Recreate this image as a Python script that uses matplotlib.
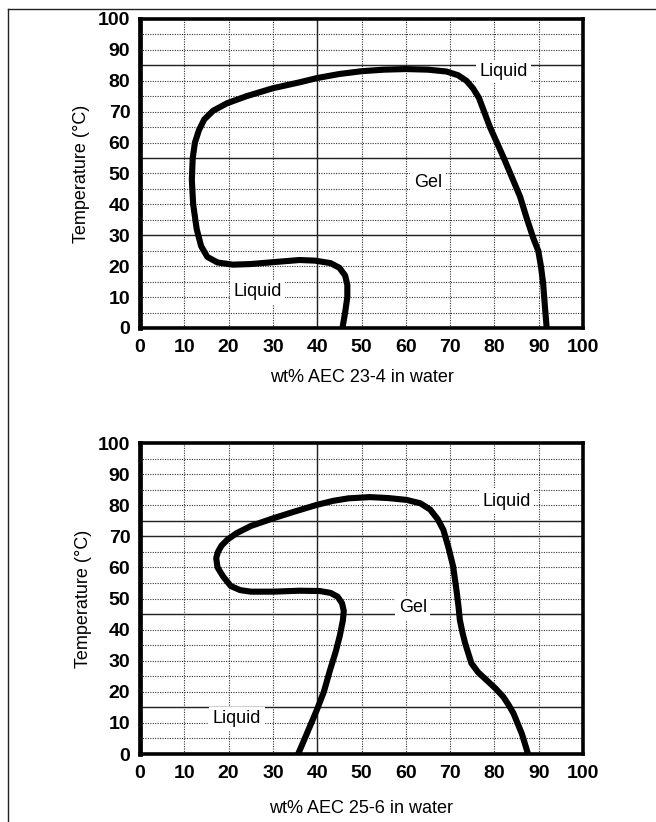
import matplotlib
matplotlib.use("Agg")
import matplotlib.pyplot as plt
from matplotlib.lines import Line2D

plt.rcParams['font.family'] = ['Liberation Sans', 'DejaVu Sans']

# ---------------- data ----------------
x_ticks = list(range(0, 101, 10))
y_ticks = list(range(0, 101, 10))
y_minor = list(range(5, 100, 10))

# AEC 23-4 phase boundary (wt%, temperature)
c1_x = [45.7, 46.3, 46.8, 46.8, 46.3, 45.0, 43.0, 39.5, 36.0, 30.0, 25.0, 21.0, 17.5,
        15.2, 13.8, 12.8, 12.0, 11.7, 11.9, 12.4, 13.3, 14.5, 16.5, 19.6, 24.0, 30.0,
        36.0, 40.0, 45.0, 50.0, 55.0, 60.0, 65.0, 69.2, 71.8, 73.7, 75.2, 76.5, 79.0,
        82.0, 85.8, 87.3, 88.8, 89.9, 90.5, 91.0, 91.4, 91.8]
c1_y = [0, 5, 10, 14, 17, 19.5, 21.0, 21.8, 22.0, 21.3, 20.7, 20.5, 21.2,
        23.0, 26.5, 32, 40, 48, 55, 60, 64, 67.5, 70.3, 72.7, 75.0, 77.6,
        79.5, 80.9, 82.2, 83.1, 83.6, 83.8, 83.6, 83.0, 81.8, 80.0, 77.5, 74.5, 65,
        55.4, 42.5, 35.5, 29, 25, 20, 14.5, 7, 0]

# AEC 25-6 phase boundary
c2_x = [35.7, 37.5, 39.9, 41.5, 42.9, 44.2, 45.1, 45.8, 46.0, 45.6, 44.6, 43.0, 40.6,
        36.0, 30.1, 25.0, 22.6, 20.5, 18.8, 17.5, 17.2, 17.6, 18.4, 19.8, 21.8, 25.0,
        30.1, 35.0, 39.9, 43.6, 47.0, 51.9, 56.0, 60.2, 63.3, 65.5, 67.2, 68.5, 69.7,
        70.7, 71.5, 71.9, 72.2, 72.8, 73.4, 74.8, 76.3, 78.2, 80.3, 82.0, 83.2, 84.3,
        86.2, 87.6]
c2_y = [0, 6, 14.1, 20, 27, 33, 38, 43, 46, 48.5, 50.6, 51.8, 52.4,
        52.5, 52.2, 52.2, 52.7, 54, 57, 60, 63, 65, 67, 69, 71, 73.3,
        75.8, 78, 80.1, 81.4, 82.2, 82.6, 82.3, 81.7, 80.6, 78.6, 75.5, 72, 66,
        60.2, 52, 47.4, 43.1, 39, 35.6, 29.2, 26.3, 23.8, 21, 18.4, 15.8, 13.1,
        6.5, 0]

# solid reference lines of the printed grid
solid_h_1 = [85, 55, 30]
solid_v_1 = [40]
solid_h_2 = [75, 70, 45, 15]
solid_v_2 = [40]

# region labels: (text, x, y)
labels_1 = [("Liquid", 82, 83), ("Gel", 65, 47), ("Liquid", 26.5, 11.7)]
labels_2 = [("Liquid", 82.8, 81.3), ("Gel", 61.6, 47), ("Liquid", 21.9, 11.3)]

xlabel_1 = "wt% AEC 23-4 in water"
xlabel_2 = "wt% AEC 25-6 in water"
ylabel = "Temperature (°C)"

# ---------------- figure ----------------
W, H = 656, 822
fig = plt.figure(figsize=(W / 100, H / 100), dpi=100)
fig.patch.set_facecolor('white')

# page frame (top and left edges)
fig.add_artist(Line2D([8 / W, 1.0], [1 - 9 / H, 1 - 9 / H], transform=fig.transFigure,
                      color='#222222', lw=1.0))
fig.add_artist(Line2D([8 / W, 8 / W], [1 - 9 / H, 0.0], transform=fig.transFigure,
                      color='#222222', lw=1.0))


def make_axes(px_left, px_top, px_right, px_bottom):
    return fig.add_axes([px_left / W, 1 - px_bottom / H,
                         (px_right - px_left) / W, (px_bottom - px_top) / H])


def draw(ax, cx, cy, sh, sv, labels, xl, xl_y, yl_x):
    ax.set_xlim(0, 100)
    ax.set_ylim(0, 100)
    ax.set_xticks(x_ticks)
    ax.set_yticks(y_ticks)
    ax.set_yticks(y_minor, minor=True)
    ax.tick_params(which='both', length=0)
    ax.tick_params(axis='x', pad=8)
    ax.tick_params(axis='y', pad=7)
    for lab in ax.get_xticklabels() + ax.get_yticklabels():
        lab.set_fontsize(14)
        lab.set_fontweight('bold')
    dot = (0, (1, 1.2))
    ax.xaxis.grid(True, which='major', linestyle=dot, lw=0.8, color='#333333')
    ax.yaxis.grid(True, which='both', linestyle=dot, lw=0.8, color='#333333')
    ax.set_axisbelow(True)
    for v in sh:
        ax.axhline(v, color='#222222', lw=1.0, zorder=1.5)
    for v in sv:
        ax.axvline(v, color='#222222', lw=1.0, zorder=1.5)
    ax.plot(cx, cy, color='black', lw=4.4, solid_joinstyle='round',
            solid_capstyle='butt', zorder=3)
    for t, x, y in labels:
        ax.text(x, y, t, fontsize=13, ha='center', va='center', zorder=4,
                bbox=dict(facecolor='white', edgecolor='none', pad=2.5))
    for side, lw in (('left', 3.4), ('bottom', 2.6), ('top', 2.6), ('right', 2.6)):
        ax.spines[side].set_linewidth(lw)
        ax.spines[side].set_color('black')
        ax.spines[side].set_zorder(5)
    ax.set_xlabel(xl, fontsize=13)
    ax.xaxis.set_label_coords(0.5, xl_y)
    ax.xaxis.label.set_va('center')
    ax.set_ylabel(ylabel, fontsize=13)
    ax.yaxis.set_label_coords(yl_x, 0.5)
    ax.yaxis.label.set_va('center')


ax1 = make_axes(140, 19, 583, 328)
draw(ax1, c1_x, c1_y, solid_h_1, solid_v_1, labels_1, xlabel_1,
     (328 - 378) / 309, (81 - 140) / 443)

ax2 = make_axes(140, 443, 583, 754)
draw(ax2, c2_x, c2_y, solid_h_2, solid_v_2, labels_2, xlabel_2,
     (754 - 808) / 311, (84 - 140) / 443)

fig.savefig("out.png", dpi=100, facecolor='white')
